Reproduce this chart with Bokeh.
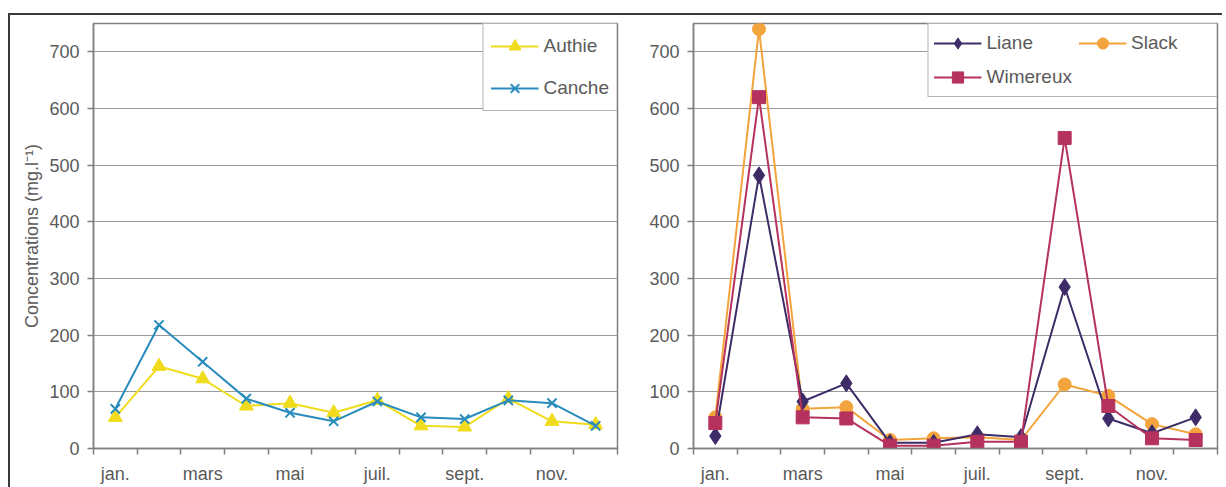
from bokeh.plotting import figure
from bokeh.layouts import row
from bokeh.models import Range1d, FixedTicker, Legend, LegendItem
from bokeh.embed import file_html
from bokeh.resources import INLINE

# ---- data ----
months = ["jan.", "févr.", "mars", "avr.", "mai", "juin",
          "juil.", "août", "sept.", "oct.", "nov.", "déc."]
month_index = list(range(1, 13))
y_ticks = [0, 100, 200, 300, 400, 500, 600, 700]

authie = [55, 145, 123, 75, 80, 63, 85, 40, 38, 88, 48, 42]
canche = [70, 218, 153, 88, 63, 48, 83, 55, 52, 85, 80, 40]

liane = [22, 482, 83, 115, 10, 10, 25, 20, 285, 53, 27, 55]
slack = [55, 740, 70, 73, 15, 18, 20, 15, 113, 93, 43, 25]
wimereux = [45, 620, 55, 53, 5, 5, 12, 12, 548, 75, 18, 15]

FONT = "Liberation Sans"
TXT = "#5a5a5a"
AX = "#808080"


def make_fig(width, left, right):
    p = figure(width=width, height=472, output_backend="svg", toolbar_location=None,
               x_range=Range1d(0.5, 12.5), y_range=Range1d(0, 750),
               min_border_left=left, min_border_right=right,
               min_border_top=8, min_border_bottom=39)
    p.background_fill_color = "white"
    p.border_fill_color = "white"
    p.outline_line_color = AX
    p.outline_line_width = 1.5

    xt = FixedTicker(ticks=month_index[0::2],
                     minor_ticks=[m - 0.5 for m in month_index] + [12.5])
    p.xaxis.ticker = xt
    p.xaxis.major_label_overrides = {m: months[m - 1] for m in month_index[0::2]}
    p.xaxis.major_tick_out = 0
    p.xaxis.major_tick_in = 0
    p.xaxis.minor_tick_out = 6
    p.xaxis.minor_tick_in = 0
    p.xaxis.minor_tick_line_color = AX
    p.xaxis.minor_tick_line_width = 1.5
    p.xaxis.major_label_standoff = 9

    p.yaxis.ticker = FixedTicker(ticks=y_ticks)
    p.yaxis.major_tick_out = 6
    p.yaxis.major_tick_in = 0
    p.yaxis.minor_tick_out = 0
    p.yaxis.minor_tick_in = 0
    p.yaxis.major_label_standoff = 8

    for ax in (p.xaxis, p.yaxis):
        ax.axis_line_color = AX
        ax.axis_line_width = 1.5
        ax.major_tick_line_color = AX
        ax.major_tick_line_width = 1.5
        ax.major_label_text_font = FONT
        ax.major_label_text_font_size = "18px"
        ax.major_label_text_color = TXT

    p.xgrid.visible = False
    p.ygrid.ticker = FixedTicker(ticks=y_ticks)
    p.ygrid.grid_line_color = "#9a9a9a"
    p.ygrid.grid_line_width = 1
    return p


# ---- left panel ----
p1 = make_fig(610, 83, 3)
p1.yaxis.axis_label = "Concentrations (mg.l⁻¹)"
p1.yaxis.axis_label_text_font = FONT
p1.yaxis.axis_label_text_font_size = "18px"
p1.yaxis.axis_label_text_font_style = "normal"
p1.yaxis.axis_label_text_color = TXT
p1.yaxis.axis_label_standoff = 4

c_auth = "#F0DC1C"
c_can = "#2A8CBC"
la = p1.line(month_index, authie, line_color=c_auth, line_width=2)
sa = p1.scatter(month_index, authie, marker="triangle", size=14,
                fill_color=c_auth, line_color=c_auth)
lc = p1.line(month_index, canche, line_color=c_can, line_width=2)
sc = p1.scatter(month_index, canche, marker="x", size=13,
                line_color=c_can, line_width=2)

leg1 = Legend(items=[LegendItem(label="Authie", renderers=[la, sa]),
                     LegendItem(label="Canche", renderers=[lc, sc])],
              location="top_right", margin=0, padding=7, spacing=12,
              glyph_width=48, glyph_height=30, label_height=30, label_standoff=5,
              label_text_font=FONT, label_text_font_size="19px",
              label_text_color=TXT, border_line_color="#6a6a6a",
              border_line_width=1.5, background_fill_color="white",
              background_fill_alpha=1)
p1.add_layout(leg1)

# ---- right panel ----
p2 = make_fig(602, 73, 5)

c_li = "#3D2C68"
c_sl = "#F3A43C"
c_wi = "#B5325E"
ls = p2.line(month_index, slack, line_color=c_sl, line_width=2)
ss = p2.scatter(month_index, slack, marker="circle", size=13,
                fill_color=c_sl, line_color=c_sl)
ll = p2.line(month_index, liane, line_color=c_li, line_width=2)
sl = p2.scatter(month_index, liane, marker="diamond", size=17,
                fill_color=c_li, line_color=c_li)
lw = p2.line(month_index, wimereux, line_color=c_wi, line_width=2)
sw = p2.scatter(month_index, wimereux, marker="square", size=13,
                fill_color=c_wi, line_color=c_wi)

leg2 = Legend(items=[LegendItem(label="Liane", renderers=[ll, sl]),
                     LegendItem(label="Slack", renderers=[ls, ss]),
                     LegendItem(label="Wimereux", renderers=[lw, sw])],
              location="top_right", orientation="horizontal", ncols=2,
              margin=0, padding=5, spacing=6,
              glyph_width=48, glyph_height=28, label_height=28, label_standoff=5,
              label_width=80,
              label_text_font=FONT, label_text_font_size="19px",
              label_text_color=TXT, border_line_color="#6a6a6a",
              border_line_width=1.5, background_fill_color="white",
              background_fill_alpha=1)
p2.add_layout(leg2)

layout = row(p1, p2, margin=(13, 0, 0, 8),
             styles={"border-top": "2px solid #3a3a3a",
                     "border-left": "2px solid #3a3a3a"})

open("out.html", "w").write(file_html(layout, INLINE))
